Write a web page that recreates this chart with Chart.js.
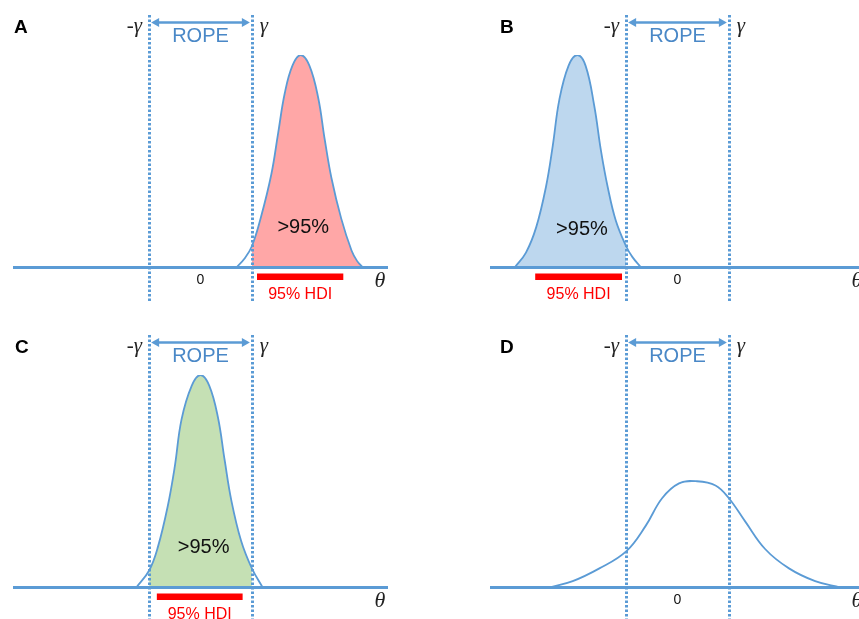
<!DOCTYPE html>
<html>
<head>
<meta charset="utf-8">
<script src="https://cdn.jsdelivr.net/npm/chart.js@4.4.1/dist/chart.umd.min.js"></script>
<style>
  html, body { margin: 0; padding: 0; width: 859px; height: 619px; overflow: hidden; background: #fff; }
  .panel { position: absolute; width: 430px; height: 320px; }
</style>
</head>
<body>
<div class="panel" style="left:0;top:0"><canvas id="panelA" width="430" height="320"></canvas></div>
<div class="panel" style="left:477px;top:0"><canvas id="panelB" width="430" height="320"></canvas></div>
<div class="panel" style="left:0;top:320px"><canvas id="panelC" width="430" height="320"></canvas></div>
<div class="panel" style="left:477px;top:320px"><canvas id="panelD" width="430" height="320"></canvas></div>
<script>
// ROPE limits (-gamma, gamma) and the theta range shown
const rope = [-1, 1];
const thetaRange = [-3.65, 3.65];
const xTicks = [0];
const xTickLabels = ['0'];

// Panel A: posterior right of the ROPE
const thetaA = [0.70, 0.85, 1.00, 1.18, 1.38, 1.51, 1.64, 1.79, 1.95, 2.12, 2.29, 2.42, 2.55, 2.74, 2.94, 3.05, 3.16];
const densA  = [0, 0.04, 0.10, 0.24, 0.44, 0.63, 0.82, 0.95, 1.0, 0.95, 0.80, 0.60, 0.42, 0.23, 0.08, 0.03, 0];
const hdiA = [1.10, 2.78];

// Panel B: posterior left of the ROPE
const thetaB = [-3.17, -2.95, -2.75, -2.56, -2.43, -2.30, -2.12, -1.95, -1.79, -1.62, -1.49, -1.36, -1.20, -1.00, -0.88, -0.71];
const densB  = [0, 0.07, 0.19, 0.38, 0.57, 0.79, 0.95, 1.0, 0.95, 0.76, 0.55, 0.38, 0.22, 0.10, 0.05, 0];
const hdiB = [-2.77, -1.08];

// Panel C: posterior inside the ROPE
const thetaC = [-1.25, -1.00, -0.83, -0.64, -0.50, -0.37, -0.17, 0, 0.17, 0.34, 0.47, 0.60, 0.79, 1.00, 1.21];
const densC  = [0, 0.08, 0.19, 0.38, 0.57, 0.79, 0.95, 1.0, 0.95, 0.80, 0.60, 0.41, 0.22, 0.09, 0];
const hdiC = [-0.85, 0.82];

// Panel D: wide posterior, undecided
const thetaD = [-2.50, -2.04, -1.52, -1.00, -0.62, -0.30, 0.03, 0.38, 0.74, 1.00, 1.32, 1.71, 2.17, 2.68, 3.17];
const densD  = [0, 0.03, 0.09, 0.17, 0.29, 0.42, 0.49, 0.50, 0.48, 0.42, 0.31, 0.18, 0.09, 0.03, 0];

const blue = '#5B9BD5';
const ropeText = '#4A88C7';
const sans = '"Liberation Sans", Arial, sans-serif';
const serif = '"Liberation Serif", "Times New Roman", serif';

const toPoints = (xs, ys) => xs.map((v, i) => ({ x: v, y: ys[i] }));

// Draws baseline, ROPE lines, arrow and all labels
const decor = {
  id: 'decor',
  afterDatasetsDraw(chart, args, o) {
    const { ctx, chartArea: a, scales: { x, y } } = chart;
    const y0 = y.getPixelForValue(0);
    const xl = x.getPixelForValue(rope[0]);
    const xr = x.getPixelForValue(rope[1]);
    ctx.save();

    // theta axis line
    ctx.strokeStyle = blue;
    ctx.lineWidth = 3;
    ctx.beginPath();
    ctx.moveTo(a.left, y0);
    ctx.lineTo(a.right, y0);
    ctx.stroke();

    // dotted ROPE limits
    ctx.lineWidth = 3;
    ctx.setLineDash([2.5, 2]);
    [xl, xr].forEach(px => {
      const sx = Math.round(px) + 0.5;
      ctx.beginPath();
      ctx.moveTo(sx, 15);
      ctx.lineTo(sx, 302);
      ctx.stroke();
    });
    ctx.setLineDash([]);

    // double arrow between the limits
    const ay = 22.5;
    ctx.lineWidth = 2.5;
    ctx.beginPath();
    ctx.moveTo(xl + 6, ay);
    ctx.lineTo(xr - 6, ay);
    ctx.stroke();
    ctx.fillStyle = blue;
    ctx.beginPath();
    ctx.moveTo(xl + 2, ay); ctx.lineTo(xl + 10, ay - 4.5); ctx.lineTo(xl + 10, ay + 4.5); ctx.closePath();
    ctx.moveTo(xr - 2, ay); ctx.lineTo(xr - 10, ay - 4.5); ctx.lineTo(xr - 10, ay + 4.5); ctx.closePath();
    ctx.fill();

    ctx.textBaseline = 'middle';
    ctx.fillStyle = ropeText;
    ctx.font = '20px ' + sans;
    ctx.textAlign = 'center';
    ctx.fillText('ROPE', (xl + xr) / 2, 36.5);

    // gamma labels
    ctx.fillStyle = '#222';
    ctx.font = 'italic 21px ' + serif;
    ctx.textAlign = 'right';
    ctx.fillText('-\u03B3', xl - 7, 26);
    ctx.textAlign = 'left';
    ctx.fillText('\u03B3', xr + 8, 26);

    // panel letter
    ctx.fillStyle = '#000';
    ctx.font = 'bold 19px ' + sans;
    ctx.textAlign = 'left';
    ctx.fillText(o.letter, o.letterX, 28);

    // theta
    ctx.fillStyle = '#222';
    ctx.font = 'italic 22px ' + serif;
    ctx.textAlign = 'center';
    ctx.fillText('\u03B8', a.right - 8, y0 + 14);

    // zero tick
    if (o.showZero) {
      ctx.font = '14px ' + sans;
      ctx.fillStyle = '#111';
      xTicks.forEach((t, i) => ctx.fillText(xTickLabels[i], x.getPixelForValue(t), y0 + 13));
    }

    // HDI label
    if (o.hdi) {
      ctx.font = '16px ' + sans;
      ctx.fillStyle = '#FF0000';
      ctx.fillText('95% HDI', x.getPixelForValue((o.hdi[0] + o.hdi[1]) / 2), y0 + 27);
    }

    // mass label
    if (o.mass) {
      ctx.font = '20px ' + sans;
      ctx.fillStyle = '#111';
      ctx.fillText('>95%', x.getPixelForValue(o.mass[0]), y.getPixelForValue(o.mass[1]));
    }
    ctx.restore();
  }
};

function makePanel(id, p) {
  const pts = toPoints(p.theta, p.dens);
  const datasets = [{
    data: pts,
    borderColor: blue,
    borderWidth: 1.8,
    pointRadius: 0,
    tension: 0.4,
    fill: false,
    order: 0
  }];
  if (p.fillColor) {
    datasets.push({
      data: pts.filter(d => d.x >= p.fillFrom && d.x <= p.fillTo),
      borderWidth: 0,
      backgroundColor: p.fillColor,
      pointRadius: 0,
      tension: 0.4,
      fill: 'origin',
      order: 1
    });
  }
  if (p.hdi) {
    datasets.push({
      data: p.hdi.map(v => ({ x: v, y: -0.043 })),
      borderColor: '#FF0000',
      borderWidth: 6.5,
      borderCapStyle: 'butt',
      pointRadius: 0,
      clip: false,
      order: 0
    });
  }
  return new Chart(document.getElementById(id), {
    type: 'line',
    data: { datasets },
    options: {
      responsive: false,
      animation: false,
      events: [],
      layout: { padding: { left: 13, right: 42, top: 55, bottom: 52.5 } },
      scales: {
        x: { type: 'linear', min: thetaRange[0], max: thetaRange[1], display: false },
        y: { min: 0, max: 1, display: false }
      },
      plugins: {
        legend: { display: false },
        tooltip: { enabled: false },
        decor: { letter: p.letter, letterX: p.letterX, showZero: p.showZero, hdi: p.hdi, mass: p.mass }
      }
    },
    plugins: [decor]
  });
}

makePanel('panelA', { theta: thetaA, dens: densA, hdi: hdiA, fillColor: '#FFA7A7', fillFrom: rope[1], fillTo: 9,
  letter: 'A', letterX: 14, showZero: true, mass: [2.0, 0.186] });
makePanel('panelB', { theta: thetaB, dens: densB, hdi: hdiB, fillColor: '#BDD7EE', fillFrom: -9, fillTo: rope[0],
  letter: 'B', letterX: 23, showZero: true, mass: [-1.86, 0.18] });
makePanel('panelC', { theta: thetaC, dens: densC, hdi: hdiC, fillColor: '#C5E0B4', fillFrom: rope[0], fillTo: rope[1],
  letter: 'C', letterX: 15, showZero: false, mass: [0.06, 0.186] });
makePanel('panelD', { theta: thetaD, dens: densD, letter: 'D', letterX: 23, showZero: true });
</script>
</body>
</html>
